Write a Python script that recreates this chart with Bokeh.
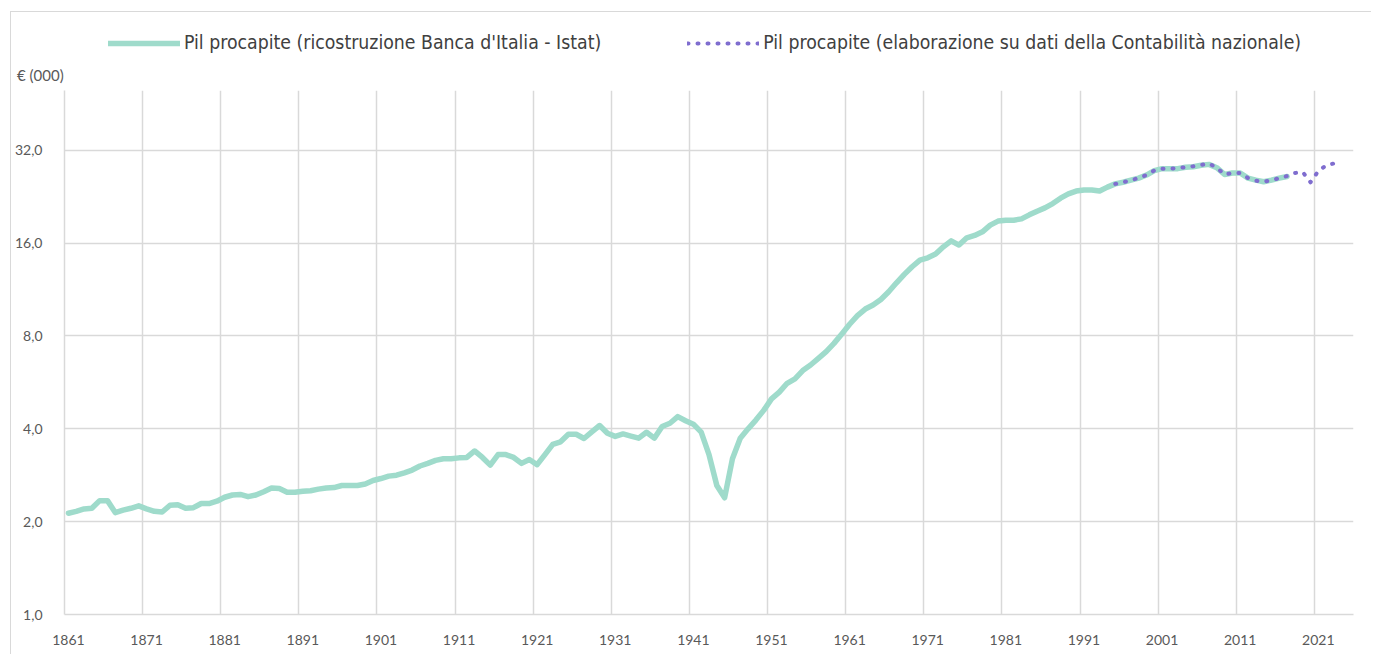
from bokeh.plotting import figure
from bokeh.layouts import column
from bokeh.models import (FixedTicker, Legend, LegendItem, Range1d, Grid, ColumnDataSource)
from bokeh.embed import file_html
from bokeh.resources import INLINE

# ---- data (€ thousands, per-capita GDP) ----
years_a = list(range(1861, 2018))
pil_a = [
    2.13, 2.16, 2.20, 2.21, 2.34, 2.34, 2.14, 2.18, 2.21, 2.25,   # 1861-1870
    2.20, 2.16, 2.15, 2.26, 2.27, 2.21, 2.22, 2.29, 2.29, 2.33,   # 1871-1880
    2.40, 2.44, 2.45, 2.41, 2.44, 2.50, 2.57, 2.56, 2.49, 2.49,   # 1881-1890
    2.51, 2.52, 2.55, 2.57, 2.58, 2.62, 2.62, 2.62, 2.65, 2.72,   # 1891-1900
    2.76, 2.81, 2.83, 2.88, 2.94, 3.03, 3.09, 3.16, 3.20, 3.20,   # 1901-1910
    3.22, 3.23, 3.39, 3.23, 3.05, 3.30, 3.30, 3.23, 3.09, 3.18,   # 1911-1920
    3.06, 3.30, 3.56, 3.63, 3.84, 3.84, 3.72, 3.91, 4.10, 3.87,   # 1921-1930
    3.78, 3.85, 3.79, 3.73, 3.90, 3.73, 4.07, 4.17, 4.38, 4.25,   # 1931-1940
    4.14, 3.90, 3.30, 2.62, 2.39, 3.20, 3.73, 4.00, 4.27, 4.59,   # 1941-1950
    5.00, 5.26, 5.62, 5.81, 6.18, 6.44, 6.77, 7.12, 7.57, 8.12,   # 1951-1960
    8.73, 9.31, 9.78, 10.08, 10.51, 11.13, 11.90, 12.67, 13.41, 14.09,  # 1961-1970
    14.34, 14.74, 15.56, 16.28, 15.77, 16.65, 16.94, 17.41, 18.30, 18.86,  # 1971-1980
    18.99, 18.99, 19.18, 19.76, 20.31, 20.82, 21.50, 22.38, 23.10, 23.60,  # 1981-1990
    23.80, 23.80, 23.60, 24.30, 24.90, 25.20, 25.60, 26.00, 26.60, 27.50,  # 1991-2000
    27.90, 27.90, 27.90, 28.20, 28.30, 28.60, 28.80, 28.10, 26.70, 27.00,  # 2001-2010
    27.00, 26.00, 25.60, 25.30, 25.60, 26.00, 26.30,                       # 2011-2017
]

years_b = list(range(1995, 2025))
pil_b = [
    24.90, 25.20, 25.60, 26.00, 26.60, 27.50,                       # 1995-2000
    27.90, 27.90, 28.00, 28.20, 28.40, 28.70, 29.00, 28.10, 26.70, 27.00,  # 2001-2010
    27.00, 26.00, 25.50, 25.30, 25.60, 26.00, 26.40, 27.00, 27.20, 25.20,  # 2011-2020
    27.40, 28.60, 29.00, 29.30,                                     # 2021-2024
]

x_ticks = list(range(1861, 2022, 10))
x_grid = [y - 0.5 for y in x_ticks]
y_ticks = [1, 2, 4, 8, 16, 32]
y_labels = ["1,0", "2,0", "4,0", "8,0", "16,0", "32,0"]

label_a = "Pil procapite (ricostruzione Banca d'Italia - Istat)"
label_b = "Pil procapite (elaborazione su dati della Contabilità nazionale)"
unit_text = "€ (000)"

TEAL = "#9fdbcb"
PURPLE = "#7f6dcf"
GRID = "#d9d9d9"
TXT = "#595959"

W = 1360
TOP_H = 43
H = 599
ML, MR, MT, MB = 52, 18, 35, 40

TEAL_STYLE = dict(line_color=TEAL, line_width=5.5, line_join="round", line_cap="round")
PURPLE_STYLE = dict(line_color=PURPLE, line_width=4, line_dash="1 9",
                    line_cap="round", line_join="round")

# ---------- header figure: legend ----------
top = figure(width=W, height=TOP_H, output_backend="svg", toolbar_location=None,
             x_range=Range1d(0, 1), y_range=Range1d(0, 1),
             min_border_left=0, min_border_right=0, min_border_top=0, min_border_bottom=0)
top.axis.visible = False
top.grid.visible = False
top.outline_line_color = None
# off-range proxy lines, only used to draw the legend glyphs
la = top.line(x=[5, 6], y=[5, 5], **TEAL_STYLE)
lb = top.line(x=[5, 6], y=[5, 5], **PURPLE_STYLE)
legend = Legend(items=[LegendItem(label=label_a, renderers=[la]),
                       LegendItem(label=label_b, renderers=[lb])],
                orientation="horizontal", location=(44, 1),
                glyph_width=72, glyph_height=20, label_standoff=4, spacing=86,
                padding=0, margin=0, border_line_alpha=0, background_fill_alpha=0,
                label_text_font="'DejaVu Sans Condensed', 'Liberation Sans Narrow', 'Roboto'",
                label_text_font_size="19.3px",
                label_text_color="#404040", label_height=20)
top.add_layout(legend, "center")

# ---------- main figure ----------
p = figure(width=W, height=H, output_backend="svg", toolbar_location=None,
           y_axis_type="log", x_range=Range1d(1860.5, 2025.5), y_range=Range1d(1, 50),
           min_border_left=ML, min_border_right=MR, min_border_top=MT, min_border_bottom=MB)
p.outline_line_color = None
p.background_fill_color = "white"

# unit label as a left-aligned title
p.title.text = unit_text
p.title.align = "left"
p.title.offset = -47.5
p.title.text_font = "Lato"
p.title.text_font_size = "15px"
p.title.text_font_style = "normal"
p.title.text_color = TXT
p.title.standoff = 13

src_a = ColumnDataSource(dict(x=years_a, y=pil_a))
src_b = ColumnDataSource(dict(x=years_b, y=pil_b))
p.line("x", "y", source=src_a, **TEAL_STYLE)
p.line("x", "y", source=src_b, **PURPLE_STYLE)

p.xaxis.ticker = FixedTicker(ticks=x_ticks)
p.yaxis.ticker = FixedTicker(ticks=y_ticks)
p.yaxis.major_label_overrides = {t: l for t, l in zip(y_ticks, y_labels)}
for ax in (p.xaxis, p.yaxis):
    ax.major_tick_line_color = None
    ax.minor_tick_line_color = None
    ax.axis_line_color = GRID
    ax.axis_line_width = 1.5
    ax.major_label_text_font = "Lato"
    ax.major_label_text_font_size = "14px"
    ax.major_label_text_color = TXT
p.xaxis.major_label_standoff = 14
p.yaxis.major_label_standoff = 16

p.xgrid.visible = False
p.ygrid.ticker = FixedTicker(ticks=y_ticks)
p.ygrid.grid_line_color = GRID
p.ygrid.grid_line_width = 1.5
p.ygrid.minor_grid_line_color = None
vg = Grid(dimension=0, ticker=FixedTicker(ticks=x_grid), grid_line_color=GRID, grid_line_width=1.5)
p.add_layout(vg)

layout = column(top, p, spacing=0)
layout.styles = {"margin-left": "10px", "margin-top": "11px",
                 "border-left": "1.5px solid #d9d9d9", "border-top": "1.5px solid #d9d9d9"}

open("out.html", "w").write(file_html(layout, INLINE))
